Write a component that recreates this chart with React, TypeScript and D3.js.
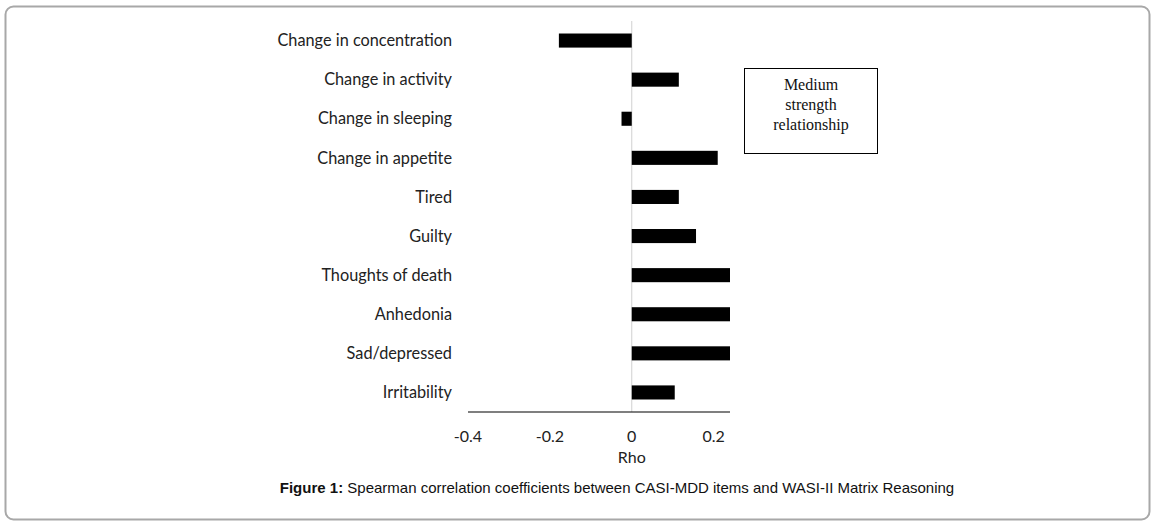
import React from "react";
import * as d3 from "d3";

const categories = [
  "Change in concentration",
  "Change in activity",
  "Change in sleeping",
  "Change in appetite",
  "Tired",
  "Guilty",
  "Thoughts of death",
  "Anhedonia",
  "Sad/depressed",
  "Irritability",
];
const rhoValues = [-0.178, 0.115, -0.025, 0.21, 0.115, 0.157, 0.24, 0.24, 0.24, 0.105];
const tickValues = [-0.4, -0.2, 0, 0.2];
const tickLabels = ["-0.4", "-0.2", "0", "0.2"];
const boxLines = ["Medium", "strength", "relationship"];

export default function App() {
  const W = 1155, H = 524;
  const x = d3.scaleLinear().domain([-0.4, 0.24]).range([468, 730]);
  const y = d3.scaleBand().domain(categories).range([21, 412]).paddingInner(0.64).paddingOuter(0.32);
  const labelFont = "Lato, 'Open Sans', sans-serif";
  return (
    <svg width={W} height={H} style={{ position: "absolute", left: 0, top: 0 }}>
      <rect x={0} y={0} width={W} height={H} fill="#fff" />
      <rect x={5.5} y={6.5} width={1144} height={513} rx={8} ry={8} fill="#fff" stroke="#a8a8a8" strokeWidth={2} />
      <line x1={x(0)} x2={x(0)} y1={21} y2={412} stroke="#d0d0d0" strokeWidth={1} />
      {categories.map((c, i) => {
        const v = rhoValues[i];
        const x0 = x(Math.min(0, v));
        const x1 = x(Math.max(0, v));
        return (
          <g key={c}>
            <rect x={x0} y={y(c)!} width={x1 - x0} height={y.bandwidth()} fill="#000" />
            <text x={452} y={y(c)! + y.bandwidth() / 2} dy="0.35em" textAnchor="end"
              fontFamily={labelFont} fontSize={16.3} fill="#222">{c}</text>
          </g>
        );
      })}
      <line x1={468} x2={730} y1={412} y2={412} stroke="#000" strokeWidth={1.2} />
      {tickValues.map((t, i) => (
        <text key={t} x={x(t)} y={442} textAnchor="middle" fontFamily={labelFont} fontSize={16} fill="#222">{tickLabels[i]}</text>
      ))}
      <text x={x(0)} y={463} textAnchor="middle" fontFamily={labelFont} fontSize={16} fill="#222">Rho</text>
      <rect x={744.5} y={68.5} width={133} height={85} fill="#fff" stroke="#000" strokeWidth={1} />
      {boxLines.map((l, i) => (
        <text key={l} x={811} y={90 + i * 20} textAnchor="middle" fontFamily="'Liberation Serif', 'Times New Roman', serif" fontSize={16} fill="#111">{l}</text>
      ))}
      <text x={617} y={493} textAnchor="middle" fontFamily="'Liberation Sans', Arial, sans-serif" fontSize={15} fill="#111">
        <tspan fontWeight="bold">Figure 1:</tspan> Spearman correlation coefficients between CASI-MDD items and WASI-II Matrix Reasoning
      </text>
    </svg>
  );
}
